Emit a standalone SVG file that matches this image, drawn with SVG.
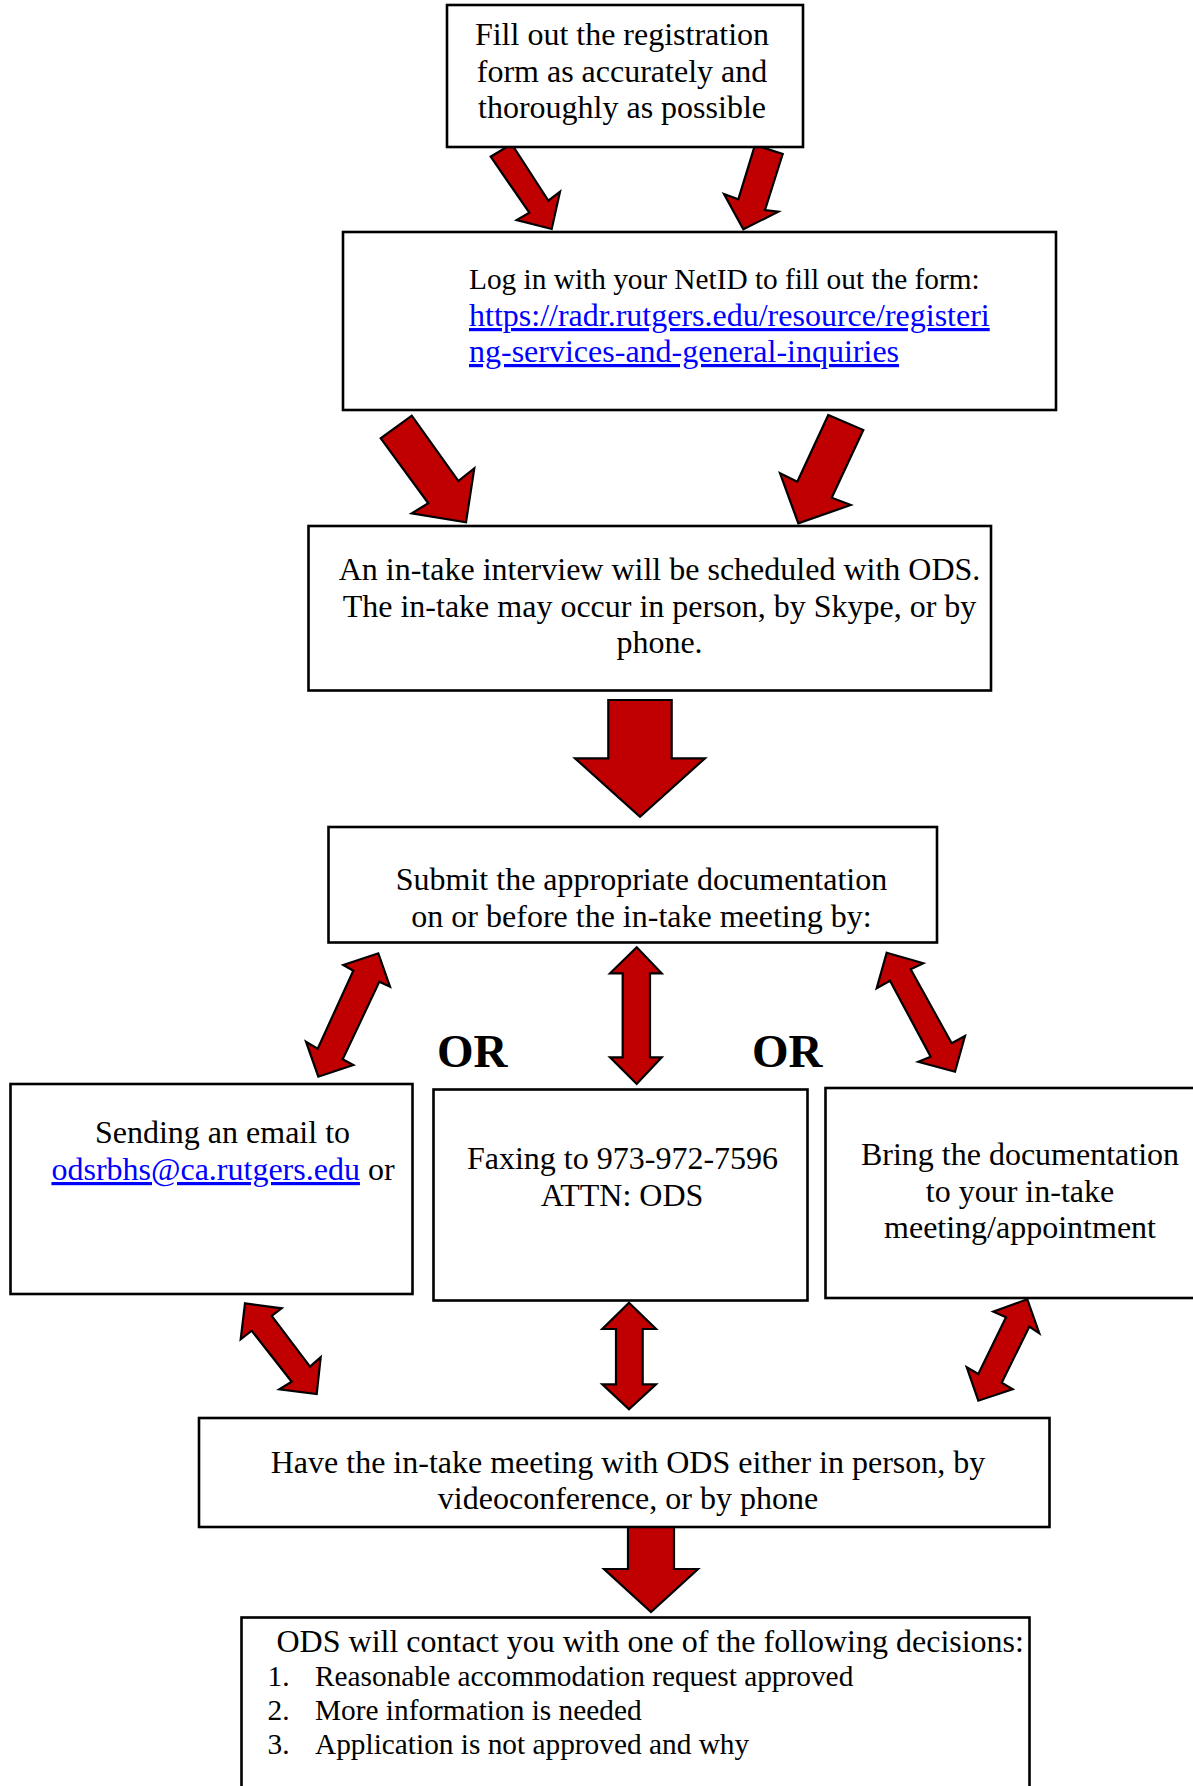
<svg xmlns="http://www.w3.org/2000/svg" width="1193" height="1786" viewBox="0 0 1193 1786">
<style>
.box{fill:#fff;stroke:#000;stroke-width:2.6}
.t{font-family:"Liberation Serif","Times New Roman",serif;font-size:32px;fill:#000}
.m{text-anchor:middle}
.s{font-size:29.33px}
.lnk{fill:#0000FF;text-decoration:underline}
.or{font-family:"Liberation Serif","Times New Roman",serif;font-size:47px;font-weight:bold;fill:#000}
.ar{fill:#C00000;stroke:#000;stroke-width:2.2;stroke-linejoin:miter}
</style>
<rect width="1193" height="1786" fill="#fff"/>
<g id="connectors">
<polygon class="ar" points="511.7,144 548.3,200.7 560,191.7 551.7,229 516.7,220 529.3,212.7 490.7,156.7"/>
<polygon class="ar" points="755,145 782.7,154 765,210 778.3,211.7 743.3,229.3 724,194 738.3,199.3"/>
<polygon class="ar" points="411.7,415.7 458.3,481 474.3,468.3 466,522.3 411.7,513.3 428.3,503.3 380.7,438.3"/>
<polygon class="ar" points="828.3,415 863.3,430 831.7,497.7 850.7,505 798.3,523.3 780,473.3 797.3,481.7"/>
<polygon class="ar" points="608.3,700 671.7,700 671.7,758.3 705,758.3 640,816.7 575,758.3 608.3,758.3"/>
<polygon class="ar" points="378.3,953.3 390,986.7 379.3,981.7 342.7,1059.3 353.3,1065 318.3,1076.7 306,1041.7 317.7,1048.7 353.3,970.7 343.3,965"/>
<polygon class="ar" points="636.7,947.3 661.7,973.3 650,973.3 650,1057.3 661.7,1057.3 636.7,1084 610,1057.3 622.7,1057.3 622.7,973.3 610,973.3"/>
<polygon class="ar" points="886.7,952.7 923.3,963.3 910.7,969.3 951.7,1043.3 965,1036 955,1071.7 918.3,1061.7 930.7,1056.7 890,980.7 876.7,988.3"/>
<polygon class="ar" points="245,1303.3 281.7,1308.3 271.7,1316 310,1366.7 320.7,1357.3 316.7,1394 279.3,1389.3 291.7,1381.7 251.7,1330.7 240.7,1339.3"/>
<polygon class="ar" points="629,1302.7 656,1329 642.7,1329 642.7,1384.3 656,1384.3 629,1409.3 602.3,1384.3 616,1384.3 616,1329 602.3,1329"/>
<polygon class="ar" points="1027.3,1299.3 1039.3,1333.3 1029.3,1326.7 1001.7,1382.7 1012.7,1389.3 978.3,1400.7 966.7,1367.3 978.3,1374 1006,1317.3 993.3,1311.7"/>
<polygon class="ar" points="628,1527 674,1527 674,1569 698,1569 651,1612 604,1569 628,1569"/>
</g>
<g id="n1">
<rect class="box" x="447" y="5" width="356" height="142"/>
<text class="t m" x="622" y="45">Fill out the registration</text>
<text class="t m" x="622" y="82">form as accurately and</text>
<text class="t m" x="622" y="118">thoroughly as possible</text>
</g>
<g id="n2">
<rect class="box" x="343" y="232" width="713" height="178"/>
<text class="t s" x="469" y="289">Log in with your NetID to fill out the form:</text>
<text class="t lnk" x="469" y="326">https://radr.rutgers.edu/resource/registeri</text>
<text class="t lnk" x="469" y="362">ng-services-and-general-inquiries</text>
</g>
<g id="n3">
<rect class="box" x="308.5" y="526" width="682.5" height="164.5"/>
<text class="t m" x="659.5" y="580">An in-take interview will be scheduled with ODS.</text>
<text class="t m" x="659.5" y="617">The in-take may occur in person, by Skype, or by</text>
<text class="t m" x="659.5" y="653">phone.</text>
</g>
<g id="n4">
<rect class="box" x="328.5" y="827" width="608.5" height="115.5"/>
<text class="t m" x="641.5" y="890">Submit the appropriate documentation</text>
<text class="t m" x="641.5" y="927">on or before the in-take meeting by:</text>
</g>
<g id="n5">
<rect class="box" x="10.5" y="1084" width="402" height="210"/>
<text class="t m" x="222.5" y="1143">Sending an email to</text>
<text class="t m" x="223" y="1180"><tspan class="lnk">odsrbhs@ca.rutgers.edu</tspan> or</text>
</g>
<g id="n6">
<rect class="box" x="433.5" y="1089.5" width="374" height="211"/>
<text class="t m" x="622.5" y="1169">Faxing to 973-972-7596</text>
<text class="t m" x="622" y="1206">ATTN: ODS</text>
</g>
<g id="n7">
<rect class="box" x="825.5" y="1088" width="390" height="210"/>
<text class="t m" x="1020" y="1165">Bring the documentation</text>
<text class="t m" x="1020" y="1202">to your in-take</text>
<text class="t m" x="1020" y="1238">meeting/appointment</text>
</g>
<g id="or-labels">
<text class="or" x="437" y="1067">OR</text>
<text class="or" x="752" y="1067">OR</text>
</g>
<g id="n8">
<rect class="box" x="199" y="1418" width="850.5" height="109"/>
<text class="t m" x="628" y="1473">Have the in-take meeting with ODS either in person, by</text>
<text class="t m" x="628" y="1509">videoconference, or by phone</text>
</g>
<g id="n9">
<rect class="box" x="241.5" y="1617.5" width="788" height="200"/>
<text class="t" x="276.5" y="1652">ODS will contact you with one of the following decisions:</text>
<text class="t s" x="267.5" y="1686">1.</text>
<text class="t s" x="315" y="1686">Reasonable accommodation request approved</text>
<text class="t s" x="267.5" y="1720">2.</text>
<text class="t s" x="315" y="1720">More information is needed</text>
<text class="t s" x="267.5" y="1754">3.</text>
<text class="t s" x="315" y="1754">Application is not approved and why</text>
</g>
</svg>
